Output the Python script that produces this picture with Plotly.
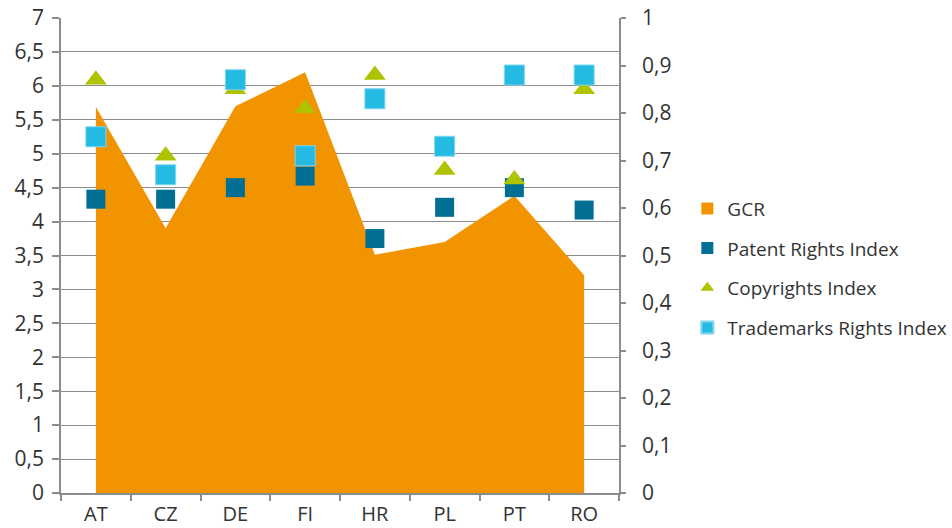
import plotly.graph_objects as go

countries = ["AT", "CZ", "DE", "FI", "HR", "PL", "PT", "RO"]

# Left axis (1-7 / 0-5 scales)
gcr = [5.69, 3.90, 5.70, 6.20, 3.51, 3.70, 4.38, 3.21]
patent_rights = [4.33, 4.33, 4.50, 4.67, 3.75, 4.21, 4.50, 4.17]

# Right axis (0-1 scale)
copyrights = [0.87, 0.71, 0.85, 0.81, 0.88, 0.68, 0.66, 0.85]
trademarks = [0.75, 0.67, 0.87, 0.71, 0.83, 0.73, 0.88, 0.88]

left_ticks = [0, 0.5, 1, 1.5, 2, 2.5, 3, 3.5, 4, 4.5, 5, 5.5, 6, 6.5, 7]
right_ticks = [0, 0.1, 0.2, 0.3, 0.4, 0.5, 0.6, 0.7, 0.8, 0.9, 1]

ORANGE = "#F29400"
DARK_BLUE = "#006F93"
GREEN = "#AFC300"
LIGHT_BLUE = "#25BAE2"
GRID = "#8C8C8C"
TEXT = "#333333"
FONT = "Open Sans"

fig = go.Figure()

# GCR as a filled area; its legend entry is a square swatch
fig.add_trace(go.Scatter(
    x=countries, y=gcr, name="GCR", mode="none",
    fill="tozeroy", fillcolor=ORANGE, showlegend=False,
))
fig.add_trace(go.Scatter(
    x=[None], y=[None], name="GCR", mode="markers",
    marker=dict(symbol="square", size=12, color=ORANGE), legendgroup="g1",
))
fig.add_trace(go.Scatter(
    x=countries, y=patent_rights, name="Patent Rights Index", mode="markers",
    marker=dict(symbol="square", size=19, color=DARK_BLUE), legendgroup="g2",
))
fig.add_trace(go.Scatter(
    x=countries, y=copyrights, name="Copyrights Index", mode="markers", yaxis="y2",
    marker=dict(symbol="triangle-up", size=19, color=GREEN), legendgroup="g3",
))
fig.add_trace(go.Scatter(
    x=countries, y=trademarks, name="Trademarks Rights Index", mode="markers", yaxis="y2",
    marker=dict(symbol="square", size=20, color=LIGHT_BLUE,
                line=dict(color="#7FD6EE", width=1)), legendgroup="g4",
))

fig.update_layout(
    width=952, height=528,
    margin=dict(l=61, r=333, t=18, b=35),
    paper_bgcolor="white", plot_bgcolor="white",
    separators=", ",
    font=dict(family=FONT, size=21, color=TEXT),
    showlegend=True,
    legend=dict(
        xref="container", yref="container",
        x=0.722, y=0.641, xanchor="left", yanchor="top",
        font=dict(family=FONT, size=19, color=TEXT),
        itemsizing="constant", tracegroupgap=12, itemwidth=30,
        bgcolor="rgba(0,0,0,0)",
    ),
    xaxis=dict(
        type="category", range=[-0.5, 7.5], automargin=False,
        showline=True, linecolor=GRID, linewidth=1.5,
        ticks="outside", tickson="boundaries", ticklen=6, tickcolor=GRID, tickwidth=1.5,
        showgrid=False, zeroline=False, ticklabelstandoff=2,
        tickfont=dict(family=FONT, size=20, color=TEXT),
    ),
    yaxis=dict(
        range=[0, 7], tickvals=left_ticks, automargin=False,
        showline=True, linecolor=GRID, linewidth=1.5,
        ticks="outside", ticklen=7, tickcolor=GRID, tickwidth=1.5,
        showgrid=True, gridcolor=GRID, gridwidth=1.3, zeroline=False,
        ticklabelstandoff=4,
        tickfont=dict(family=FONT, size=21, color=TEXT),
    ),
    yaxis2=dict(
        range=[0, 1], tickvals=right_ticks, overlaying="y", side="right",
        automargin=False,
        showline=True, linecolor=GRID, linewidth=1.5,
        ticks="outside", ticklen=5, tickcolor=GRID, tickwidth=1.5,
        showgrid=False, zeroline=False, ticklabelstandoff=12,
        tickfont=dict(family=FONT, size=21, color=TEXT),
    ),
)

fig.write_html("out.html")
